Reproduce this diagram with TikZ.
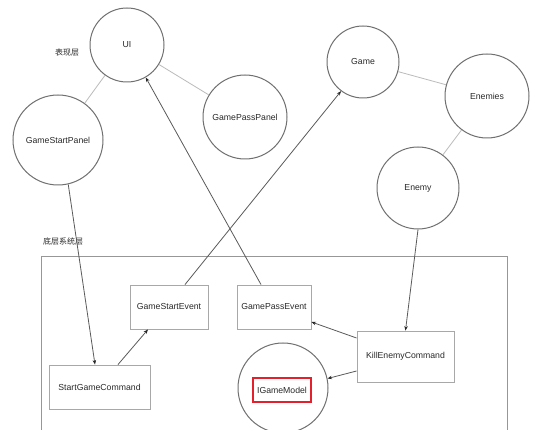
\documentclass[tikz,border=0pt]{standalone}
\usepackage{fontspec}
\setmainfont{Liberation Sans}
\newfontfamily\cjk{Noto Sans CJK SC}
\usetikzlibrary{arrows.meta,calc}
\definecolor{txt}{HTML}{2A2A2A}
\definecolor{circborder}{HTML}{707070}
\definecolor{linklight}{HTML}{BBBBBB}
\definecolor{arrowgray}{HTML}{5A5A5A}
\definecolor{boxborder}{HTML}{A8A8A8}
\definecolor{hlred}{HTML}{E3202B}
\tikzset{
  circ/.style={circle, draw=circborder, line width=1pt, inner sep=0pt, text=txt},
  boxnode/.style={rectangle, draw=boxborder, line width=0.9pt, inner sep=0pt, text=txt},
  assoc/.style={draw=linklight, line width=0.8pt},
  dep/.style={draw=arrowgray, line width=0.8pt, -{Stealth[length=4.5pt,width=3.5pt,color=black!85]}},
  layerlabel/.style={text=txt, font=\cjk\fontsize{8}{10}\selectfont},
  redbox/.style={rectangle, draw=hlred, line width=2.2pt, inner sep=0pt, minimum width=58pt, minimum height=24pt, text=txt}
}
\begin{document}
\begin{tikzpicture}[x=1pt,y=-1pt, font=\fontsize{8.7}{10}\selectfont]
\clip (0,0) rectangle (552,430);
\fill[white] (0,0) rectangle (552,430);

% layer labels
\node[layerlabel] (labelTop) at (67,53) {表现层};
\node[layerlabel] (labelBottom) at (63,241) {底层系统层};

% bottom layer frame
\draw[draw=boxborder!90!black, line width=0.9pt] (41,256) rectangle (507,445);

% circles
\node[circ, minimum size=74pt] (UI) at (127,45) {UI};
\node[circ, minimum size=90pt] (GameStartPanel) at (58,140) {GameStartPanel};
\node[circ, minimum size=84pt] (GamePassPanel) at (245,117) {GamePassPanel};
\node[circ, minimum size=72pt] (Game) at (363,62) {Game};
\node[circ, minimum size=84pt] (Enemies) at (487,96) {Enemies};
\node[circ, minimum size=82pt] (Enemy) at (418,188) {Enemy};
\node[circ, minimum size=90pt] (IGameModel) at (283,388) {};
\node[redbox] (IGameModelLabel) at (282,390) {IGameModel};

% boxes
\node[boxnode, minimum width=78pt, minimum height=44pt] (GameStartEvent) at (169,307) {GameStartEvent};
\node[boxnode, minimum width=74pt, minimum height=44pt] (GamePassEvent) at (274,307) {GamePassEvent};
\node[boxnode, minimum width=97pt, minimum height=51pt] (KillEnemyCommand) at (405.5,356.5) {KillEnemyCommand};
\node[boxnode, minimum width=101pt, minimum height=44pt] (StartGameCommand) at (99.5,387) {StartGameCommand};

% associations
\draw[assoc] (UI) -- (GameStartPanel);
\draw[assoc] (UI) -- (GamePassPanel);
\draw[assoc] (Game) -- (Enemies);
\draw[assoc] (Enemies) -- (Enemy);

% dependencies
\draw[dep] (GameStartPanel.-77) -- ([xshift=-4.5pt]StartGameCommand.north);
\draw[dep] ([xshift=18.5pt]StartGameCommand.north) -- ([xshift=-21pt]GameStartEvent.south);
\draw[dep] ([xshift=16pt]GameStartEvent.north) -- (Game.-127);
\draw[dep] ([xshift=-13pt]GamePassEvent.north) -- (UI.-60);
\draw[dep] (Enemy.south) -- (KillEnemyCommand.north);
\draw[dep] ([yshift=18.5pt]KillEnemyCommand.west) -- ([yshift=-15pt]GamePassEvent.east);
\draw[dep] ([yshift=-14.5pt]KillEnemyCommand.west) -- (IGameModel.12);
\end{tikzpicture}
\end{document}
